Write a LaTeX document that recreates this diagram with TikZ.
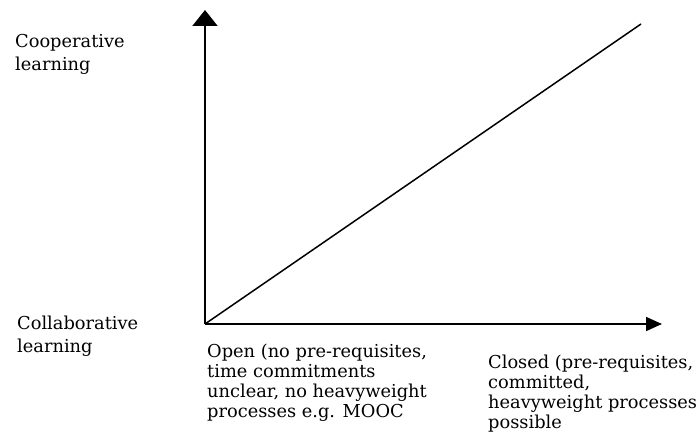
\documentclass[tikz,border=0pt]{standalone}
\usepackage{fontspec}
\setmainfont{DejaVu Serif}
\usetikzlibrary{positioning,arrows.meta}

\begin{document}
\begin{tikzpicture}[x=1pt,y=-1pt,
    axisline/.style={line width=1.8pt},
    sidelbl/.style={anchor=base west,inner sep=0pt,align=left,
                    font=\fontsize{17.8}{23}\selectfont},
    bottomlbl/.style={anchor=base west,inner sep=0pt,align=left,
                      font=\fontsize{17.8}{20}\selectfont}]
  \useasboundingbox (0,0) rectangle (699,441);
  % axes
  \coordinate (orig) at (205,324);
  \coordinate (ytop) at (205,10);
  \coordinate (xend) at (662,324);
  \coordinate (dend) at (641,24);
  \draw[axisline,-{Triangle[length=16pt,width=25pt]}] (orig) -- (ytop);
  \draw[axisline,-{Triangle[length=16pt,width=14pt]}] (orig) -- (xend);
  \draw[line width=1.5pt] (orig) -- (dend);
  % labels (anchored at last baseline)
  \node[sidelbl] (coop) at (15,71) {Cooperative\\learning};
  \node[sidelbl] (collab) at (17,352) {Collaborative\\learning};
  \node[bottomlbl] (open) at (207,417)
    {Open (no pre-requisites,\\time commitments\\unclear, no heavyweight\\processes e.g. MOOC};
  \node[bottomlbl] (closed) at (488,428)
    {Closed (pre-requisites,\\committed,\\heavyweight processes\\possible};
\end{tikzpicture}
\end{document}
